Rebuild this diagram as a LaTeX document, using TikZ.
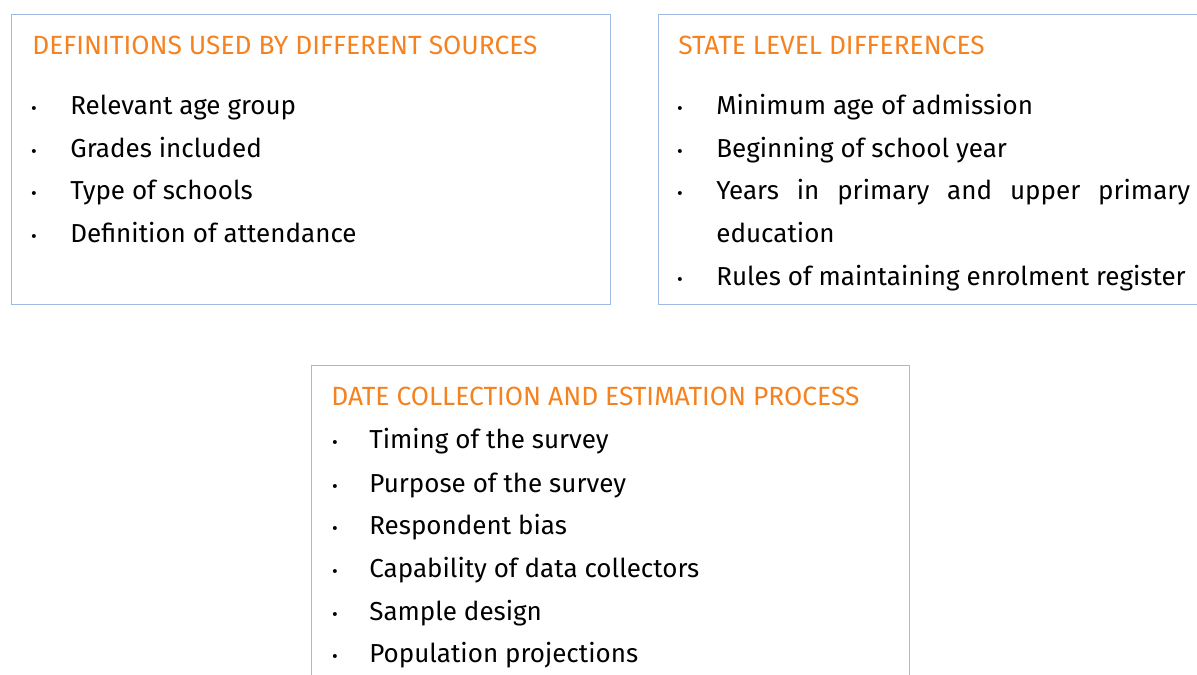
\documentclass[tikz,border=0pt]{standalone}
\usepackage{fontspec}
\setmainfont{Fira Sans}
\usetikzlibrary{positioning}
\definecolor{titleorange}{RGB}{245,130,32}
\definecolor{boxblue}{RGB}{160,184,228}
\tikzstyle{every node}=[inner sep=0pt, anchor=base west]

\begin{document}
\begin{tikzpicture}[
        x=0.02cm, y=-0.02cm,
        frame/.style={
                draw=boxblue,
                line width=0.7pt,
                anchor=north west
            },
        heading/.style={
                text=titleorange,
                font=\fontsize{15}{18}\selectfont
            },
        dot/.style={
                anchor=base,
                font=\fontsize{10}{12}\selectfont
            },
        entry/.style={
                font=\fontsize{14.8}{24.4}\selectfont
            },
    ]
    \useasboundingbox (0,0) rectangle (1197,675);
    \clip (0,0) rectangle (1197,675);
    % Frames
    \node[frame, minimum width=12cm-0.02cm, minimum height=5.8cm] (defbox) at (11,14) {};
    \node[frame, minimum width=11.4cm, minimum height=5.8cm] (statebox) at (658,14) {};
    \node[frame, minimum width=11.96cm, minimum height=7cm] (procbox) at (311,365) {};
    % Definitions used by different sources
    \node[heading] (defhead) at (32,55) {DEFINITIONS USED BY DIFFERENT SOURCES};
    \node[dot] (defdot1) at (34,115) {\textbullet};
    \node[entry] (defitem1) at (70,115) {Relevant age group};
    \node[dot] (defdot2) at (34,158) {\textbullet};
    \node[entry] (defitem2) at (70,158) {Grades included};
    \node[dot] (defdot3) at (34,200) {\textbullet};
    \node[entry] (defitem3) at (70,200) {Type of schools};
    \node[dot] (defdot4) at (34,243) {\textbullet};
    \node[entry] (defitem4) at (70,243) {Definition of attendance};
    % State level differences
    \node[heading] (statehead) at (678,55) {STATE LEVEL DIFFERENCES};
    \node[dot] (statedot1) at (680,115) {\textbullet};
    \node[entry] (stateitem1) at (716,115) {Minimum age of admission};
    \node[dot] (statedot2) at (680,158) {\textbullet};
    \node[entry] (stateitem2) at (716,158) {Beginning of school year};
    \node[dot] (statedot3) at (680,200) {\textbullet};
    \node[entry, text width=9.48cm, align=justify] (stateitem3) at (716,200) {Years in primary and upper primary\linebreak education};
    \node[dot] (statedot4) at (680,286) {\textbullet};
    \node[entry] (stateitem4) at (716,286) {Rules of maintaining enrolment register};
    % Date collection and estimation process
    \node[heading] (prochead) at (331,406) {DATE COLLECTION AND ESTIMATION PROCESS};
    \node[dot] (procdot1) at (335,449) {\textbullet};
    \node[entry] (procitem1) at (369,449) {Timing of the survey};
    \node[dot] (procdot2) at (335,492) {\textbullet};
    \node[entry] (procitem2) at (369,492) {Purpose of the survey};
    \node[dot] (procdot3) at (335,534) {\textbullet};
    \node[entry] (procitem3) at (369,534) {Respondent bias};
    \node[dot] (procdot4) at (335,577) {\textbullet};
    \node[entry] (procitem4) at (369,577) {Capability of data collectors};
    \node[dot] (procdot5) at (335,620) {\textbullet};
    \node[entry] (procitem5) at (369,620) {Sample design};
    \node[dot] (procdot6) at (335,662) {\textbullet};
    \node[entry] (procitem6) at (369,662) {Population projections};
\end{tikzpicture}
\end{document}
